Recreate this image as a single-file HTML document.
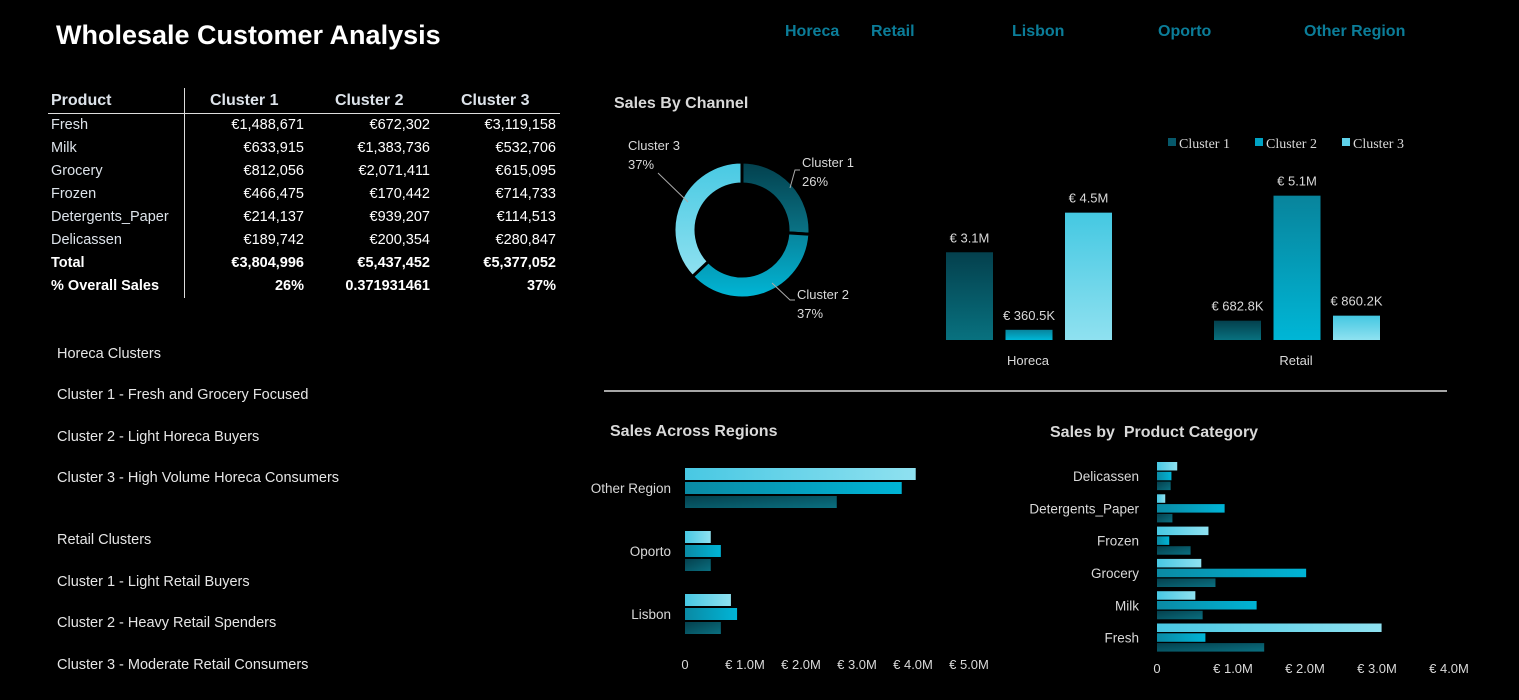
<!DOCTYPE html>
<html><head><meta charset="utf-8"><style>
body{margin:0;background:#000;width:1519px;height:700px;overflow:hidden;font-family:"Liberation Sans",sans-serif;color:#fff;position:relative}
.a{position:absolute;white-space:nowrap}
.nav{color:#0b7d99;font-weight:bold;font-size:16px;top:23px}
.note{left:57px;font-size:14.5px;color:#e6e6e6}
.t{font-size:14.5px;color:#dde3ea}
.tv{text-align:right;width:120px}
</style></head><body>
<div class="a" style="left:56px;top:20px;font-size:27px;font-weight:bold">Wholesale Customer Analysis</div>
<div class="a nav" style="left:785px">Horeca</div>
<div class="a nav" style="left:871px">Retail</div>
<div class="a nav" style="left:1012px">Lisbon</div>
<div class="a nav" style="left:1158px">Oporto</div>
<div class="a nav" style="left:1304px">Other Region</div>

<div>
<div class="a" style="left:184px;top:88px;width:1px;height:210px;background:#ddd"></div>
<div class="a" style="left:48px;top:113px;width:512px;height:1px;background:#ddd"></div>
<div class="a t" style="left:51px;top:92px;font-weight:bold;font-size:16px">Product</div>
<div class="a t" style="left:210px;top:92px;font-weight:bold;font-size:16px">Cluster 1</div>
<div class="a t" style="left:335px;top:92px;font-weight:bold;font-size:16px">Cluster 2</div>
<div class="a t" style="left:461px;top:92px;font-weight:bold;font-size:16px">Cluster 3</div>
<div id="rows"></div>
</div>

<div class="a note" style="top:346px">Horeca Clusters</div>
<div class="a note" style="top:387px">Cluster 1 - Fresh and Grocery Focused</div>
<div class="a note" style="top:429px">Cluster 2 - Light Horeca Buyers</div>
<div class="a note" style="top:470px">Cluster 3 - High Volume Horeca Consumers</div>
<div class="a note" style="top:532px">Retail Clusters</div>
<div class="a note" style="top:574px">Cluster 1 - Light Retail Buyers</div>
<div class="a note" style="top:615px">Cluster 2 - Heavy Retail Spenders</div>
<div class="a note" style="top:657px">Cluster 3 - Moderate Retail Consumers</div>

<svg class="a" style="left:0;top:0" width="1519" height="700" id="svg" font-family="Liberation Sans, sans-serif">
<defs>
<linearGradient id="g1" x1="0" y1="0" x2="0" y2="1"><stop offset="0" stop-color="#04404d"/><stop offset="1" stop-color="#08717f"/></linearGradient>
<linearGradient id="g2" x1="0" y1="0" x2="0" y2="1"><stop offset="0" stop-color="#08849c"/><stop offset="1" stop-color="#00b6d6"/></linearGradient>
<linearGradient id="g3" x1="0" y1="0" x2="0" y2="1"><stop offset="0" stop-color="#44c8e2"/><stop offset="1" stop-color="#8fe1f0"/></linearGradient>
<linearGradient id="h1" x1="0" y1="0" x2="1" y2="1"><stop offset="0" stop-color="#04404d"/><stop offset="1" stop-color="#0a6f80"/></linearGradient>
<linearGradient id="h2" x1="0" y1="0" x2="1" y2="0"><stop offset="0" stop-color="#0a8aa4"/><stop offset="1" stop-color="#00b4d6"/></linearGradient>
<linearGradient id="h3" x1="0" y1="0" x2="1" y2="0"><stop offset="0" stop-color="#48c8e3"/><stop offset="1" stop-color="#8fe1f0"/></linearGradient>
</defs>
<text x="614" y="108" font-size="16" font-weight="bold" fill="#d9d9d9">Sales By Channel</text>
<line x1="604" y1="391" x2="1447" y2="391" stroke="#ddd" stroke-width="1.5"/>
<text x="610" y="436" font-size="16" font-weight="bold" fill="#d9d9d9">Sales Across Regions</text>
<text x="1050" y="437" font-size="16" font-weight="bold" fill="#d9d9d9">Sales by&#160; Product Category</text>
<g id="legend" font-family="Liberation Serif, serif" font-size="14" fill="#d9d9d9"></g>
<g id="donut"></g><g id="cols"></g><g id="reg"></g><g id="prod"></g>
</svg>
<script>
const products=["Fresh","Milk","Grocery","Frozen","Detergents_Paper","Delicassen"];
const c1=[1488671,633915,812056,466475,214137,189742];
const c2=[672302,1383736,2071411,170442,939207,200354];
const c3=[3119158,532706,615095,714733,114513,280847];
const donutShares=[26,37,37];
const channels=["Horeca","Retail"];
const chanC1=[3.1,0.6828],chanC2=[0.3605,5.1],chanC3=[4.5,0.8602];
const chanLabels=[["€ 3.1M","€ 360.5K","€ 4.5M"],["€ 682.8K","€ 5.1M","€ 860.2K"]];
const regions=["Other Region","Oporto","Lisbon"];
const regC1=[2.71,0.46,0.64],regC2=[3.87,0.64,0.93],regC3=[4.12,0.46,0.82];
const regTicks=["0","€ 1.0M","€ 2.0M","€ 3.0M","€ 4.0M","€ 5.0M"];
const prodTicks=["0","€ 1.0M","€ 2.0M","€ 3.0M","€ 4.0M"];
const NS="http://www.w3.org/2000/svg";
function mk(p,tag,at,txt){const e=document.createElementNS(NS,tag);for(const k in at)e.setAttribute(k,at[k]);if(txt!=null)e.textContent=txt;p.appendChild(e);return e;}
const fmt=v=>"€"+v.toLocaleString("en-US");
const rows=document.getElementById("rows");
function row(i,label,vals,bold){
 const y=117+i*23;
 let d=document.createElement("div");d.className="a t";d.style.cssText=`left:51px;top:${y}px;${bold?"font-weight:bold;color:#fff":""}`;d.textContent=label;
 
 
 rows.appendChild(d);
 vals.forEach((v,j)=>{let c=document.createElement("div");c.className="a t tv";c.style.cssText=`left:${184+j*126}px;top:${y}px;color:#fff;${bold?"font-weight:bold":""}`;c.textContent=v;
 
 
 rows.appendChild(c);});
}
products.forEach((p,i)=>row(i,p,[fmt(c1[i]),fmt(c2[i]),fmt(c3[i])],false));
const tot=[c1,c2,c3].map(a=>a.reduce((s,x)=>s+x,0));
row(6,"Total",tot.map(fmt),true);
row(7,"% Overall Sales",["26%","0.371931461","37%"],true);
const lg=document.getElementById("legend");
["Cluster 1","Cluster 2","Cluster 3"].forEach((n,i)=>{const x=1168+i*87;
 const r=mk(lg,"rect",{x:x,y:138,width:8,height:8,fill:["#06586a","#00a3c4","#5fd2ea"][i]});
 
 
 const t=mk(lg,"text",{x:x+11,y:148},n);
 
 
});
const dg=document.getElementById("donut");
const cx=742,cy=230,R=68,r0=46;let ang=0;const tot100=donutShares.reduce((a,b)=>a+b,0);
const dgr=[["#03404d","#0a7487"],["#08849c","#00b6d6"],["#48c9e3","#8fe1f0"]];
donutShares.forEach((s,i)=>{
 const a0=ang/tot100*2*Math.PI,a1=(ang+s)/tot100*2*Math.PI;ang+=s;
 const P=(a,rr)=>[cx+rr*Math.sin(a),cy-rr*Math.cos(a)];
 const L=a1-a0>Math.PI?1:0;
 const [x1,y1]=P(a0,R),[x2,y2]=P(a1,R),[x3,y3]=P(a1,r0),[x4,y4]=P(a0,r0);
 const g=mk(dg,"linearGradient",{id:"dg"+i,x1:0,y1:0,x2:0,y2:1});
 mk(g,"stop",{offset:0,"stop-color":dgr[i][0]});mk(g,"stop",{offset:1,"stop-color":dgr[i][1]});
 const p=mk(dg,"path",{d:`M${x1},${y1}A${R},${R} 0 ${L} 1 ${x2},${y2}L${x3},${y3}A${r0},${r0} 0 ${L} 0 ${x4},${y4}Z`,fill:`url(#dg${i})`,stroke:"#000","stroke-width":3});
 
 
});
[[802,167,"Cluster 1"],[802,186,donutShares[0]+"%"],[797,299,"Cluster 2"],[797,318,donutShares[1]+"%"],[628,150,"Cluster 3"],[628,169,donutShares[2]+"%"]].forEach(a=>{
 const t=mk(dg,"text",{x:a[0],y:a[1],"font-size":13,fill:"#d9d9d9"},a[2]);
 
 
});
mk(dg,"polyline",{points:"800,170 795,170 790,188",fill:"none",stroke:"#aaa"});
mk(dg,"polyline",{points:"795,300 790,300 772,283",fill:"none",stroke:"#aaa"});
mk(dg,"line",{x1:658,y1:173,x2:688,y2:202,stroke:"#aaa"});
const cg=document.getElementById("cols");
const base=340,pxM=28.3,groupX=[946,1214];
const chanSeries=[chanC1,chanC2,chanC3];
channels.forEach((ch,gi)=>{
 chanSeries.forEach((ser,si)=>{
  const h=ser[gi]*pxM,x=groupX[gi]+si*59.5;
  const r=mk(cg,"rect",{x:x,y:base-h,width:47,height:h,fill:`url(#g${si+1})`});
  
  
  const t=mk(cg,"text",{x:x+23.5,y:base-h-10,"font-size":13,fill:"#d9d9d9","text-anchor":"middle"},chanLabels[gi][si]);
  
  
 });
 const t=mk(cg,"text",{x:groupX[gi]+82,y:365,"font-size":13,fill:"#d9d9d9","text-anchor":"middle"},ch);
 
 
});
function hbars(gid,cats,s1,s2,s3,x0,pxPerM,topY,step,barH,gap,labelX,ticks,tickY,fs){
 const g=document.getElementById(gid);
 cats.forEach((c,i)=>{
  const y=topY+i*step;
  [s3,s2,s1].forEach((ser,k)=>{
   const r=mk(g,"rect",{x:x0,y:y+k*(barH+gap),width:Math.max(0,ser[i]*pxPerM),height:barH,fill:`url(#h${3-k})`});
   
   
  });
  const t=mk(g,"text",{x:labelX,y:y+(3*barH+2*gap)/2+5,"font-size":fs,fill:"#d9d9d9","text-anchor":"end"},c);
  
  
 });
 ticks.forEach((tk,i)=>{
  const t=mk(g,"text",{x:x0+i*pxPerM+(i?4:0),y:tickY,"font-size":13,fill:"#d9d9d9","text-anchor":"middle"},tk);
  
  
 });
}
hbars("reg",regions,regC1,regC2,regC3,685,56,468,63,12,2,671,regTicks,669,13.5);
const pM=a=>a.map(v=>v/1e6);
const pc=[...products].reverse();
hbars("prod",pc,pM([...c1].reverse()),pM([...c2].reverse()),pM([...c3].reverse()),1157,72,462,32.3,8.5,1.3,1139,prodTicks,673,13.5);
</script>
</body></html>
